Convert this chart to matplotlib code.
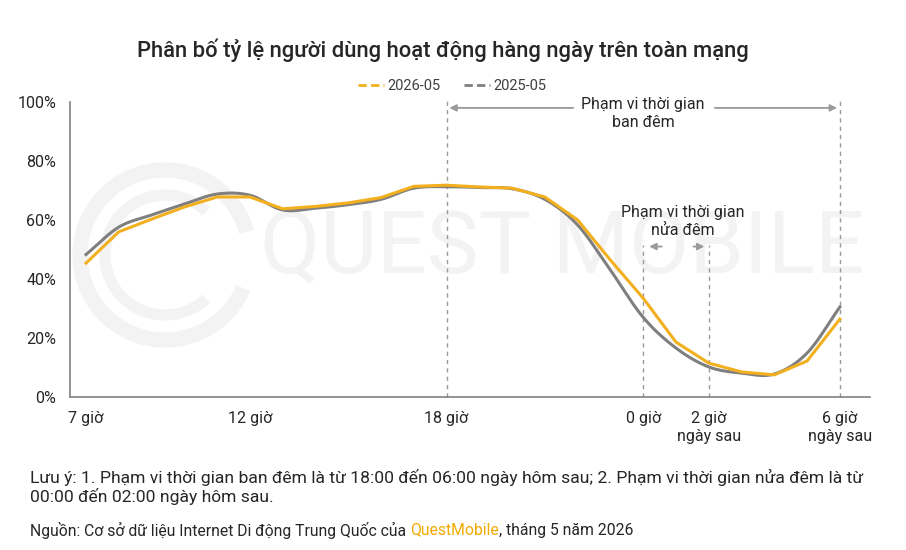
import matplotlib
matplotlib.use('Agg')
import matplotlib.pyplot as plt
import numpy as np
from matplotlib.lines import Line2D
from matplotlib.patches import Arc

plt.rcParams['font.family'] = ['Roboto', 'DejaVu Sans']

# ------------------------------------------------------------
# data
# ------------------------------------------------------------
HOURS = list(range(7, 31))  # 7h .. 6h next day
SHARE_2026 = [45.4, 56.0, 60.3, 64.4, 67.8, 67.8, 63.8, 64.6, 65.8, 67.6, 71.4, 71.8,
              71.2, 70.8, 67.8, 60.0, 46.4, 33.5, 18.6, 11.5, 8.5, 7.5, 12.2, 26.4]
SHARE_2025 = [48.3, 57.6, 61.7, 65.4, 68.8, 68.4, 63.4, 64.0, 65.2, 67.0, 70.8, 71.3,
              71.0, 70.6, 67.0, 58.3, 43.0, 27.0, 16.6, 10.2, 8.1, 7.8, 14.9, 30.5]
SERIES_NAMES = ['2026-05', '2025-05']

TICK_POS = [7, 12, 18, 24, 26, 30]
TICK_LABELS = ['7 giờ', '12 giờ', '18 giờ', '0 giờ', '2 giờ\nngày sau', '6 giờ\nngày sau']

NIGHT = (18, 30)
MIDNIGHT = (24, 26)

TITLE = 'Phân bố tỷ lệ người dùng hoạt động hàng ngày trên toàn mạng'
NOTE = ('Lưu ý: 1. Phạm vi thời gian ban đêm là từ 18:00 đến 06:00 ngày hôm sau; '
        '2. Phạm vi thời gian nửa đêm là từ\n00:00 đến 02:00 ngày hôm sau.')
SOURCE_PARTS = [('Nguồn: Cơ sở dữ liệu Internet Di động Trung Quốc của ', '#262626'),
                ('QuestMobile', '#F2A900'),
                (', tháng 5 năm 2026', '#262626')]

YELLOW = '#F2B01E'
GRAY = '#7F7F7F'
TXT = '#262626'
WM = '#f3f3f3'


def catmull_rom(x, y, n=24):
    """Smooth line through points, like a spreadsheet 'smoothed line'."""
    p = np.column_stack([x, y]).astype(float)
    p = np.vstack([2 * p[0] - p[1], p, 2 * p[-1] - p[-2]])
    t = np.linspace(0, 1, n, endpoint=False)[:, None]
    segs = []
    for i in range(1, len(p) - 2):
        p0, p1, p2, p3 = p[i - 1], p[i], p[i + 1], p[i + 2]
        segs.append(0.5 * (2 * p1 + (-p0 + p2) * t
                           + (2 * p0 - 5 * p1 + 4 * p2 - p3) * t ** 2
                           + (-p0 + 3 * p1 - 3 * p2 + p3) * t ** 3))
    segs.append(p[-2][None])
    s = np.vstack(segs)
    return s[:, 0], s[:, 1]


fig = plt.figure(figsize=(9.06, 5.5), dpi=100)
ax = fig.add_axes([70 / 906, 1 - 397 / 550, 800 / 906, 295 / 550])
ax.set_xlim(6.51, 30.92)
ax.set_ylim(0, 100)
ax.patch.set_alpha(0)

# faint watermark, kept under the data
ax.text(0.615, 0.5, 'QUEST MOBILE', transform=ax.transAxes, fontsize=63,
        color=WM, ha='center', va='center', zorder=0)
ax.add_patch(Arc((165 / 906, 1 - 255 / 550), 170 / 906, 170 / 550, theta1=25, theta2=325,
                 transform=fig.transFigure, color=WM, lw=11, zorder=0, clip_on=False))
ax.add_patch(Arc((165 / 906, 1 - 255 / 550), 120 / 906, 120 / 550, theta1=60, theta2=300,
                 transform=fig.transFigure, color=WM, lw=8, zorder=0, clip_on=False))

# lines
ax.plot(HOURS, SHARE_2026, color=YELLOW, lw=2.2, zorder=3, solid_joinstyle='round')
gx, gy = catmull_rom(HOURS, SHARE_2025)
ax.plot(gx, gy, color=GRAY, lw=2.2, zorder=2)

# range markers
dash = dict(color='#9a9a9a', lw=1, linestyle=(0, (3, 3)), zorder=1)
for h in NIGHT:
    ax.plot([h, h], [0, 100.5], clip_on=False, **dash)
for h in MIDNIGHT:
    ax.plot([h, h], [0, 51.5], **dash)

arrow = dict(arrowstyle='-|>', color='#9a9a9a', lw=1.3, mutation_scale=10)
mid_n = (NIGHT[0] + NIGHT[1]) / 2
ax.annotate('', xy=(NIGHT[0], 98), xytext=(mid_n - 2.05, 98), arrowprops=arrow)
ax.annotate('', xy=(NIGHT[1], 98), xytext=(mid_n + 2.1, 98), arrowprops=arrow)
ax.text(mid_n, 96, 'Phạm vi thời gian\nban đêm', ha='center', va='center',
        fontsize=11.5, color=TXT, linespacing=1.25, zorder=5)

mid_m = (MIDNIGHT[0] + MIDNIGHT[1]) / 2 + 0.2
ax.annotate('', xy=(MIDNIGHT[0] + 0.1, 51.0), xytext=(MIDNIGHT[0] + 0.65, 51.0), arrowprops=arrow)
ax.annotate('', xy=(MIDNIGHT[1] - 0.05, 51.0), xytext=(MIDNIGHT[1] - 0.55, 51.0), arrowprops=arrow)
ax.text(mid_m, 59.5, 'Phạm vi thời gian\nnửa đêm', ha='center', va='center',
        fontsize=11.5, color=TXT, linespacing=1.25, zorder=5)

# axes styling
for side in ['top', 'right']:
    ax.spines[side].set_visible(False)
for side in ['left', 'bottom']:
    ax.spines[side].set_color('#808080')
    ax.spines[side].set_linewidth(1.2)
ax.set_yticks(range(0, 101, 20))
ax.set_yticklabels([f'{v}%' for v in range(0, 101, 20)])
ax.set_xticks(TICK_POS)
ax.set_xticklabels(TICK_LABELS, linespacing=1.3)
ax.tick_params(axis='both', length=0, labelsize=11.5, labelcolor=TXT)
ax.tick_params(axis='x', pad=10)
ax.tick_params(axis='y', pad=10)

# legend with dashed sample lines
handles = [Line2D([], [], color=YELLOW, lw=2, linestyle=(0, (3, 1.5))),
           Line2D([], [], color=GRAY, lw=2, linestyle=(0, (3, 1.5)))]
fig.legend(handles, SERIES_NAMES, loc='center', bbox_to_anchor=(452 / 906, 1 - 86 / 550),
           ncol=2, frameon=False, fontsize=10.5, handlelength=1.8, handletextpad=0.2,
           columnspacing=1.6, labelcolor='#404040')

fig.text(443 / 906, 1 - 50 / 550, TITLE, ha='center', va='center', fontsize=15.8,
         fontweight='medium', color=TXT)

fig.text(30 / 906, 1 - 487 / 550, NOTE, ha='left', va='center', fontsize=12.6,
         color=TXT, linespacing=1.15)

renderer = fig.canvas.get_renderer()
x0 = 30 / 906
for txt, col in SOURCE_PARTS:
    t = fig.text(x0, 1 - 530 / 550, txt, ha='left', va='center', fontsize=11.3, color=col)
    bb = t.get_window_extent(renderer=renderer)
    x0 += bb.width / fig.bbox.width

fig.savefig('out.png', dpi=100)
